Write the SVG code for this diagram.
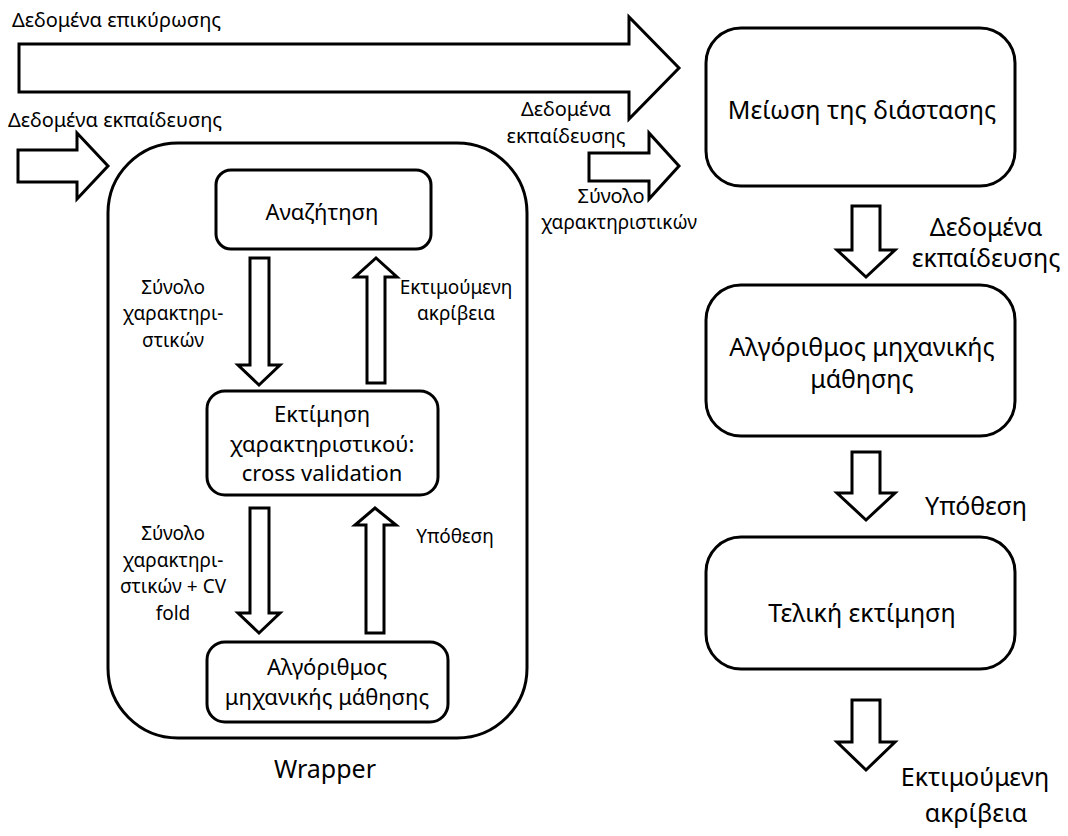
<svg xmlns="http://www.w3.org/2000/svg" width="1068" height="836" viewBox="0 0 1068 836">
<style>
.box{fill:#fff;stroke:#000;stroke-width:3}
.arr{fill:#fff;stroke:#000;stroke-width:3;stroke-linejoin:miter}
text{font-family:"Noto Sans","Open Sans","DejaVu Sans",sans-serif;fill:#000}
.s{font-size:19px}
.m{font-size:20px}
.b{font-size:22px}
.l{font-size:25px}
.c{text-anchor:middle}
</style>
<rect width="1068" height="836" fill="#fff"/>
<g id="wrapper">
<rect class="box" x="108" y="143" width="419" height="595" rx="70" ry="70"/>
<text class="l c" x="325" y="778">Wrapper</text>
</g>
<g id="search">
<rect class="box" x="216" y="170" width="215" height="79" rx="15" ry="15"/>
<text class="b c" x="322" y="220">Αναζήτηση</text>
</g>
<g id="feature-eval">
<rect class="box" x="207" y="391" width="231" height="104" rx="18" ry="18"/>
<text class="b c" x="322" y="422">Εκτίμηση</text>
<text class="b c" x="322" y="452">χαρακτηριστικού:</text>
<text class="b c" x="322" y="481">cross validation</text>
</g>
<g id="inner-ml">
<rect class="box" x="207" y="642" width="241" height="80" rx="18" ry="18"/>
<text class="b c" x="327" y="675">Αλγόριθμος</text>
<text class="b c" x="327" y="705">μηχανικής μάθησης</text>
</g>
<g id="dim-reduction">
<rect class="box" x="706" y="28" width="309" height="158" rx="35" ry="35"/>
<text class="l c" x="862" y="119">Μείωση της διάστασης</text>
</g>
<g id="ml-algorithm">
<rect class="box" x="706" y="285" width="309" height="151" rx="35" ry="35"/>
<text class="l c" x="862" y="356">Αλγόριθμος μηχανικής</text>
<text class="l c" x="862" y="388">μάθησης</text>
</g>
<g id="final-eval">
<rect class="box" x="706" y="537" width="309" height="132" rx="35" ry="35"/>
<text class="l c" x="862" y="622">Τελική εκτίμηση</text>
</g>
<g id="connectors">
<polygon class="arr" points="19,44 629,44 629,17 679,68 629,119 629,92 19,92"/>
<polygon class="arr" points="18,150 77,150 77,133 108,166 77,199 77,182 18,182"/>
<polygon class="arr" points="589,153 649,153 649,133 679,166 649,199 649,181 589,181"/>
<polygon class="arr" points="852,206 880,206 880,250 895,250 866,277 837,250 852,250"/>
<polygon class="arr" points="852,452 880,452 880,493 895,493 866,520 837,493 852,493"/>
<polygon class="arr" points="852,700 880,700 880,742 895,742 866,770 837,742 852,742"/>
<polygon class="arr" points="250,258 269,258 269,365 280,365 259,385 238,365 250,365"/>
<polygon class="arr" points="367,383 385,383 385,277 397,277 376,258 355,277 367,277"/>
<polygon class="arr" points="250,508 269,508 269,613 280,613 259,633 238,613 250,613"/>
<polygon class="arr" points="366,633 384,633 384,525 396,525 375,508 355,525 366,525"/>
</g>
<g id="labels">
<text class="m" x="12" y="27">Δεδομένα επικύρωσης</text>
<text class="m" x="8" y="127">Δεδομένα εκπαίδευσης</text>
<text class="m c" x="566" y="116">Δεδομένα</text>
<text class="m c" x="566" y="143">εκπαίδευσης</text>
<text class="m c" x="611" y="203">Σύνολο</text>
<text class="s c" x="619" y="229">χαρακτηριστικών</text>
<text class="s c" x="173" y="294">Σύνολο</text>
<text class="s c" x="173" y="320">χαρακτηρι-</text>
<text class="s c" x="173" y="347">στικών</text>
<text class="s c" x="456" y="294">Εκτιμούμενη</text>
<text class="s c" x="456" y="320">ακρίβεια</text>
<text class="s c" x="173" y="540">Σύνολο</text>
<text class="s c" x="173" y="567">χαρακτηρι-</text>
<text class="s c" x="173" y="593">στικών + CV</text>
<text class="s c" x="173" y="620">fold</text>
<text class="s c" x="455" y="543">Υπόθεση</text>
<text class="l c" x="986" y="236">Δεδομένα</text>
<text class="l c" x="986" y="267">εκπαίδευσης</text>
<text class="l c" x="976" y="515">Υπόθεση</text>
<text class="l c" x="975" y="786">Εκτιμούμενη</text>
<text class="l c" x="976" y="822">ακρίβεια</text>
</g>
</svg>
